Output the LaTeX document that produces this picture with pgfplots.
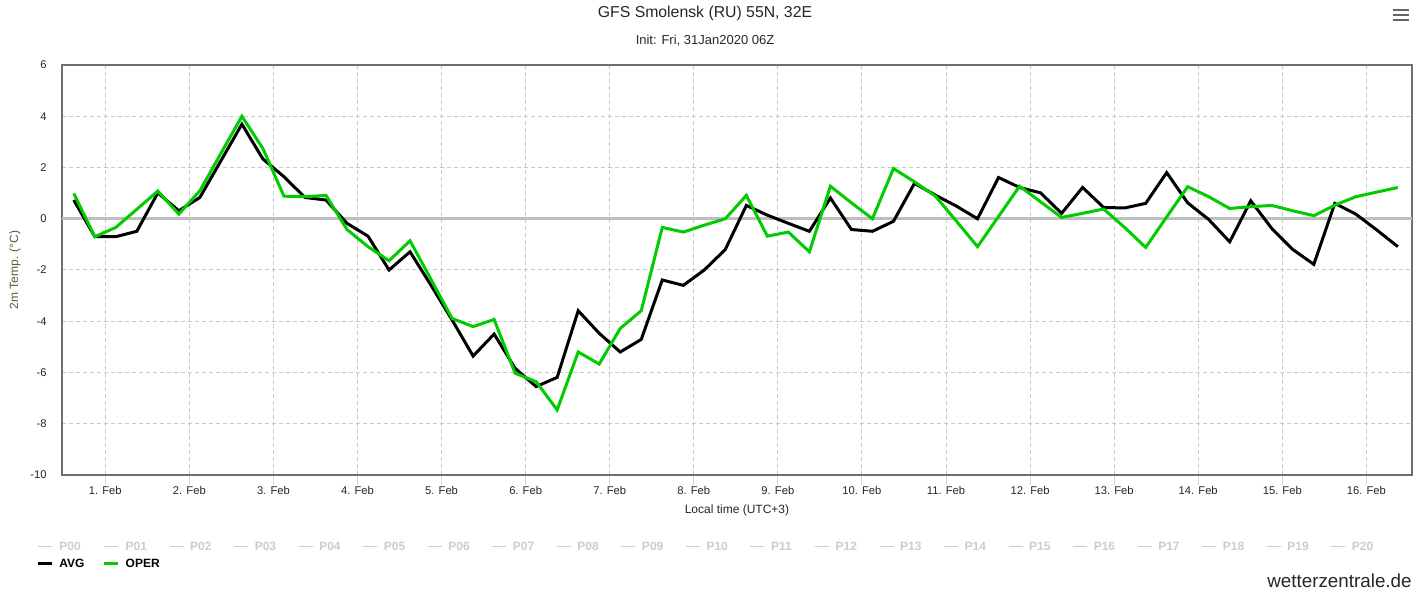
\documentclass[border=0pt]{standalone}
\usepackage{fontspec}
\setmainfont{Liberation Sans}
\usepackage{pgfplots}
\usepackage{pgfplotstable}
\pgfplotsset{compat=1.18}

\definecolor{operc}{RGB}{0,204,0}
\definecolor{gridc}{RGB}{200,200,200}
\definecolor{framec}{RGB}{112,112,112}
\definecolor{tickc}{RGB}{204,214,235}
\definecolor{hiddenc}{RGB}{204,204,204}
\definecolor{ylabc}{RGB}{70,96,50}
\definecolor{zeroc}{RGB}{190,190,190}
\definecolor{menuc}{RGB}{102,102,102}

% 6-hourly values, x in days (1 = 1. Feb 00 local)
\pgfplotstableread{
x      avg    oper
0.625   0.73   0.99
0.875  -0.70  -0.70
1.125  -0.70  -0.34
1.375  -0.49   0.37
1.625   1.01   1.08
1.875   0.31   0.18
2.125   0.83   1.09
2.375   2.26   2.55
2.625   3.69   4.00
2.875   2.33   2.74
3.125   1.64   0.88
3.375   0.83   0.86
3.625   0.73   0.91
3.875  -0.18  -0.42
4.125  -0.68  -1.09
4.375  -2.00  -1.64
4.625  -1.29  -0.86
4.875  -2.60  -2.37
5.125  -3.95  -3.89
5.375  -5.36  -4.21
5.625  -4.50  -3.93
5.875  -5.84  -6.03
6.125  -6.55  -6.36
6.375  -6.19  -7.46
6.625  -3.59  -5.20
6.875  -4.47  -5.67
7.125  -5.20  -4.28
7.375  -4.71  -3.59
7.625  -2.39  -0.34
7.875  -2.60  -0.52
8.125  -2.00  -0.25
8.375  -1.20   0.00
8.625   0.52   0.91
8.875   0.14  -0.68
9.125  -0.18  -0.52
9.375  -0.49  -1.29
9.625   0.81   1.27
9.875  -0.42   0.62
10.125 -0.49   0.00
10.375 -0.10   1.96
10.625  1.38   1.44
10.875  0.92   0.88
11.125  0.49  -0.10
11.375  0.00  -1.09
11.625  1.61   0.09
11.875  1.22   1.27
12.125  1.01   0.66
12.375  0.21   0.05
12.625  1.22   0.21
12.875  0.44   0.38
13.125  0.42  -0.34
13.375  0.60  -1.12
13.625  1.80   0.07
13.875  0.62   1.25
14.125 -0.03   0.86
14.375 -0.90   0.40
14.625  0.70   0.47
14.875 -0.38   0.52
15.125 -1.20   0.31
15.375 -1.78   0.12
15.625  0.60   0.53
15.875  0.18   0.86
16.125 -0.44   1.04
16.375 -1.09   1.22
}\temps

\begin{document}
\begin{tikzpicture}
\begin{axis}[
    scale only axis,
    width=675pt, height=205pt,
    xmin=0.485, xmax=16.543,
    ymin=-10, ymax=6,
    clip=false,
    xtick={1,...,16},
    xticklabels={1. Feb,2. Feb,3. Feb,4. Feb,5. Feb,6. Feb,7. Feb,8. Feb,
                 9. Feb,10. Feb,11. Feb,12. Feb,13. Feb,14. Feb,15. Feb,16. Feb},
    ytick={-10,-8,...,6},
    extra y ticks={0},
    extra y tick labels={},
    extra y tick style={grid style={solid, zeroc, line width=1.3pt}, tick style={draw=none}},
    grid=major,
    grid style={gridc, line width=0.5pt, dash pattern=on 2pt off 1.5pt},
    axis line style={framec, line width=0.9pt},
    xtick pos=bottom, ytick pos=left,
    tick align=outside, major tick length=5pt,
    x tick style={tickc, line width=0.5pt},
    y tick style={draw=none},
    /pgf/number format/assume math mode=true,
    ticklabel style={font=\fontsize{5.6}{6}\selectfont, text=black!85},
    xticklabel style={anchor=base, inner sep=0pt, yshift=-5pt},
    yticklabel style={anchor=east, inner sep=0pt, xshift=-2.5pt},
    xlabel={Local time (UTC+3)},
    xlabel style={at={(axis description cs:0.5,-0.0951)}, anchor=base,
                  font=\fontsize{6}{7}\selectfont, text=black!85, inner sep=0pt},
    ylabel={2m Temp. (°C)},
    ylabel style={at={(axis description cs:-0.0348,0.5)}, anchor=center,
                  font=\fontsize{6}{7}\selectfont, text=ylabc, inner sep=0pt},
    legend columns=21,
    legend cell align=left,
    legend image code/.code={\draw[#1] (0pt,0pt) -- (7pt,0pt);},
    legend style={at={(axis description cs:-0.0193,-0.1627)}, anchor=north west,
                  draw=none, fill=none, inner sep=0pt,
                  font=\bfseries\fontsize{6}{7}\selectfont,
                  nodes={inner sep=0pt, text height=4.3pt, text depth=0pt},
                  row sep=4.2pt,
                  /tikz/every odd column/.append style={column sep=3pt},
                  /tikz/every even column/.append style={column sep=9.67pt}},
]
\pgfplotsinvokeforeach{0,...,20}{\addlegendimage{hiddenc, line width=0.6pt}}

\addplot[black, line width=1.5pt] table[x=x, y=avg] {\temps};
\addplot[operc, line width=1.5pt] table[x=x, y=oper] {\temps};

\legend{
  {\color{hiddenc}\makebox[12pt][l]{P00}},{\color{hiddenc}\makebox[12pt][l]{P01}},
  {\color{hiddenc}\makebox[12pt][l]{P02}},{\color{hiddenc}\makebox[12pt][l]{P03}},
  {\color{hiddenc}\makebox[12pt][l]{P04}},{\color{hiddenc}\makebox[12pt][l]{P05}},
  {\color{hiddenc}\makebox[12pt][l]{P06}},{\color{hiddenc}\makebox[12pt][l]{P07}},
  {\color{hiddenc}\makebox[12pt][l]{P08}},{\color{hiddenc}\makebox[12pt][l]{P09}},
  {\color{hiddenc}\makebox[12pt][l]{P10}},{\color{hiddenc}\makebox[12pt][l]{P11}},
  {\color{hiddenc}\makebox[12pt][l]{P12}},{\color{hiddenc}\makebox[12pt][l]{P13}},
  {\color{hiddenc}\makebox[12pt][l]{P14}},{\color{hiddenc}\makebox[12pt][l]{P15}},
  {\color{hiddenc}\makebox[12pt][l]{P16}},{\color{hiddenc}\makebox[12pt][l]{P17}},
  {\color{hiddenc}\makebox[12pt][l]{P18}},{\color{hiddenc}\makebox[12pt][l]{P19}},
  {\color{hiddenc}\makebox[12pt][l]{P20}},
  \makebox[12pt][l]{AVG},\makebox[12pt][l]{OPER}}

% titles, watermark and menu icon
\node[anchor=base, font=\fontsize{7.9}{9}\selectfont, text=black!85]
  at (axis description cs:0.4763,1.1154) {GFS Smolensk (RU) 55N, 32E};
\node[anchor=base, font=\fontsize{6.5}{8}\selectfont, text=black!85]
  at (axis description cs:0.4763,1.0495) {Init: Fri, 31Jan2020 06Z};
\node[anchor=base east, inner sep=0pt, font=\fontsize{9.4}{11}\selectfont, text=black!85]
  at (axis description cs:1,-0.2756) {wetterzentrale.de};
\draw[menuc, line width=1pt] (axis description cs:0.9857,1.1334) -- (axis description cs:0.998,1.1334);
\draw[menuc, line width=1pt] (axis description cs:0.9857,1.1212) -- (axis description cs:0.998,1.1212);
\draw[menuc, line width=1pt] (axis description cs:0.9857,1.109) -- (axis description cs:0.998,1.109);
\end{axis}
\pgfresetboundingbox
\useasboundingbox (-31pt,-59pt) rectangle (679pt,237.5pt);
\end{tikzpicture}
\end{document}
